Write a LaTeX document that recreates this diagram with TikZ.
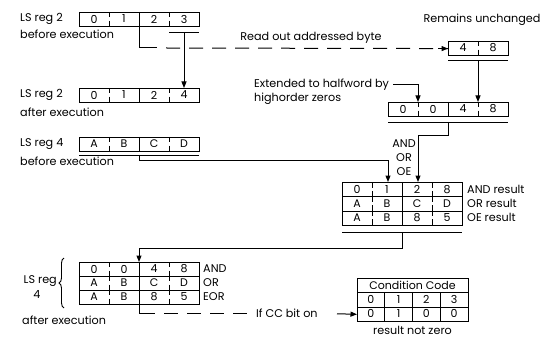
\documentclass[tikz,border=0pt]{standalone}
\usepackage{fontspec}
\setmainfont{Poppins}
\usetikzlibrary{arrows.meta,decorations.pathreplacing,calc}
\newcommand\regrow[8]{%
  \node[frame, minimum height=#4pt] (#1) at (#2,#3) {};
  \node[cell] (#1a) at (#2+15,#3+#4/2) {#5};
  \node[cell] (#1b) at (#2+45,#3+#4/2) {#6};
  \node[cell] (#1c) at (#2+75,#3+#4/2) {#7};
  \node[cell] (#1d) at (#2+105,#3+#4/2) {#8};
  \draw[divline] (#2+30,#3) -- (#2+30,#3+#4/2-1.6) (#2+30,#3+#4/2+1.6) -- (#2+30,#3+#4);
  \draw[divline] (#2+60,#3) -- (#2+60,#3+#4);
  \draw[divline] (#2+90,#3) -- (#2+90,#3+#4/2-1.6) (#2+90,#3+#4/2+1.6) -- (#2+90,#3+#4);
}
\newcommand\ccrow[7]{%
  \node[frame, minimum width=111pt, minimum height=14.3pt] (#1) at (#2,#3) {};
  \node[cell] (#1a) at (#2+13.9,#3+7.15) {#4};
  \node[cell] (#1b) at (#2+41.6,#3+7.15) {#5};
  \node[cell] (#1c) at (#2+69.4,#3+7.15) {#6};
  \node[cell] (#1d) at (#2+97.1,#3+7.15) {#7};
  \draw[divline] (#2+27.75,#3) -- (#2+27.75,#3+14.3);
  \draw[divline] (#2+55.5,#3) -- (#2+55.5,#3+14.3);
  \draw[divline] (#2+83.25,#3) -- (#2+83.25,#3+14.3);
}
\begin{document}
\begin{tikzpicture}[x=1pt,y=-1pt,
  font=\fontsize{11.2}{12}\selectfont,
  frame/.style={draw, line width=1.15pt, minimum width=120pt, inner sep=0pt, anchor=north west},
  cell/.style={inner sep=0pt, font=\fontsize{11}{12}\selectfont},
  divline/.style={line width=0.9pt},
  lbl/.style={inner sep=0pt, anchor=west},
  conn/.style={line width=1pt},
  arr/.style={line width=1pt, -{Triangle[length=6.5pt,width=5pt]}},
  longdash/.style={line width=1pt, dash pattern=on 14pt off 9pt},
  uline/.style={line width=0.9pt}]
\useasboundingbox (0,0) rectangle (540,339);

% LS reg 2 before
\regrow{rtb}{79}{12}{14}{0}{1}{2}{3}
\node[lbl] (l1) at (20,19) {LS reg 2};
\node[lbl] (l2) at (20,34) {before execution};
\coordinate (u1a) at (169,32.5);
\coordinate (u1b) at (199,32.5);
\draw[uline] (u1a) -- (u1b);
\coordinate (u1m) at (184,32.5);

% LS reg 2 after
\regrow{rta}{79}{88}{14}{0}{1}{2}{4}
\node[lbl] (l3) at (20,95) {LS reg 2};
\node[lbl] (l4) at (20,112) {after execution};
\draw[arr] (u1m) -- (u1m |- rta.north);

% LS reg 4 before
\regrow{rfb}{79}{137}{14}{A}{B}{C}{D}
\node[lbl] (l5) at (20,144) {LS reg 4};
\node[lbl] (l6) at (20,161) {before execution};
\coordinate (u2a) at (79,155);
\coordinate (u2b) at (199,155);
\draw[uline] (u2a) -- (u2b);

% read out addressed byte
\node[frame, minimum width=60pt, minimum height=14pt] (hw1) at (448,41) {};
\node[cell] (hw1a) at (463,48) {4};
\node[cell] (hw1b) at (493,48) {8};
\draw[divline] (478,41) -- (478,46.4) (478,49.6) -- (478,55);
\node[inner sep=0pt] (t1) at (482,20) {Remains unchanged};
\node[inner sep=0pt] (t2) at (311,38) {Read out addressed byte};
\coordinate (d1) at (139,26);
\draw[conn] (d1) -- (139,48) -- (157,48);
\draw[longdash] (166,48) -- (hw1.west);
\draw[arr] ($(hw1.west)+(-10,0)$) -- (hw1.west);
\coordinate (u3a) at (448,60.5);
\coordinate (u3b) at (508,60.5);
\draw[uline] (u3a) -- (u3b);
\coordinate (u3m) at (478,60.5);

% halfword
\regrow{hw}{388}{102}{14}{0}{0}{4}{8}
\draw[arr] (u3m) -- (u3m |- hw.north);
\node[lbl] (t3) at (254,85) {Extended to halfword by};
\node[lbl] (t4) at (254,99) {highorder zeros};
\coordinate (e1) at (393,85);
\draw[arr] (e1) -- (418,85) -- (418,102);
\coordinate (u4a) at (388,122);
\coordinate (u4b) at (508,122);
\draw[uline] (u4a) -- (u4b);

% operation labels
\node[inner sep=0pt] (o1) at (404,144) {AND};
\node[inner sep=0pt] (o2) at (404,158) {OR};
\node[inner sep=0pt] (o3) at (404,172) {OE};

% results
\regrow{ra}{342}{182}{14.3}{0}{1}{2}{8}
\regrow{rb}{342}{196.3}{14.3}{A}{B}{C}{D}
\regrow{rc}{342}{210.6}{14.3}{A}{B}{8}{5}
\node[lbl] (t5) at (467,189.15) {AND result};
\node[lbl] (t6) at (467,203.45) {OR result};
\node[lbl] (t7) at (467,217.75) {OE result};
\draw[arr] (448,122) -- (448,136) -- (418,136) -- (ra.north -| 418,0);
\draw[arr] (139,155) -- (139,161) -- (388,161) -- (ra.north -| 388,0);
\coordinate (u5a) at (342,232);
\coordinate (u5b) at (462,232);
\draw[uline] (u5a) -- (u5b);

% LS reg 4 after
\regrow{oa}{79}{262}{14}{0}{0}{4}{8}
\regrow{ob}{79}{276}{14}{A}{B}{C}{D}
\regrow{oc}{79}{290}{14}{A}{B}{8}{5}
\node[lbl] (t8) at (203,269) {AND};
\node[lbl] (t9) at (203,283) {OR};
\node[lbl] (t10) at (203,297) {EOR};
\draw[arr] (402,232) -- (402,248) -- (139,248) -- (oa.north -| 139,0);
\draw[decorate, decoration={brace, amplitude=5pt}, line width=0.9pt] (64,308) -- (64,258);
\node[inner sep=0pt, anchor=east] (t11) at (57,281) {LS reg};
\node[inner sep=0pt] (t12) at (37,294) {4};
\node[lbl] (t13) at (22,320) {after execution};

% condition code
\node[frame, minimum width=111pt, minimum height=14.3pt] (cch) at (357,278) {};
\node[cell] (cct) at (412.5,285.15) {Condition Code};
\ccrow{cca}{357}{292.3}{0}{1}{2}{3}
\ccrow{ccb}{357}{306.6}{0}{1}{0}{0}
\node[inner sep=0pt] (t14) at (412.5,330) {result not zero};
\node[lbl] (t15) at (256,313.75) {If CC bit on};
\draw[conn] (139,304) -- (139,313.75) -- (155,313.75);
\draw[longdash] (164,313.75) -- (252,313.75);
\coordinate (cc0) at (337,313.75);
\draw[arr] (cc0) -- (ccb.west);
\end{tikzpicture}
\end{document}
